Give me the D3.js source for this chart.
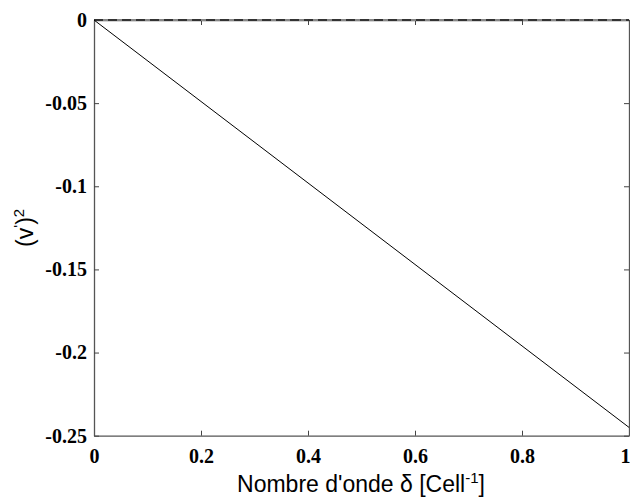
<!DOCTYPE html>
<html>
<head>
<meta charset="utf-8">
<script src="https://cdn.jsdelivr.net/npm/d3@7"></script>
<style>
  html, body { margin: 0; padding: 0; background: #fff; }
  svg { display: block; }
</style>
</head>
<body>
<svg id="chart" width="630" height="501"></svg>
<script>
// Wavenumber delta and squared velocity (v')^2 — a straight line from 0 to -0.245
const delta = [0, 1];
const vSquared = [0, -0.245];
const zeroRef = [0, 0];
const xTicks = [0, 0.2, 0.4, 0.6, 0.8, 1];
const yTicks = [0, -0.05, -0.1, -0.15, -0.2, -0.25];
const yTickLabels = ["0", "-0.05", "-0.1", "-0.15", "-0.2", "-0.25"];

const svg = d3.select("#chart");
const margin = { left: 94, right: 1, top: 20, bottom: 65 };
const W = 630, H = 501;

const x = d3.scaleLinear().domain([0, 1]).range([margin.left, W - margin.right]);
const y = d3.scaleLinear().domain([-0.25, 0]).range([H - margin.bottom - 0.3, margin.top]);

const tickFont = "'Liberation Serif', 'Times New Roman', serif";
const labelFont = "'Liberation Sans', Arial, sans-serif";

// bottom axis
const gx = svg.append("g").attr("transform", `translate(0,${y(-0.25)})`)
  .call(d3.axisBottom(x).tickValues(xTicks).tickSizeInner(-5).tickSizeOuter(0)
    .tickFormat(d => d3.format("")(d)));
// top axis (ticks only)
const gxt = svg.append("g").attr("transform", `translate(0,${y(0)})`)
  .call(d3.axisTop(x).tickValues(xTicks).tickSizeInner(-5).tickSizeOuter(0).tickFormat(""));
// left axis
const gy = svg.append("g").attr("transform", `translate(${x(0)},0)`)
  .call(d3.axisLeft(y).tickValues(yTicks).tickSizeInner(-5).tickSizeOuter(0)
    .tickFormat((d, i) => yTickLabels[i]));
// right axis (ticks only)
const gyr = svg.append("g").attr("transform", `translate(${x(1)},0)`)
  .call(d3.axisRight(y).tickValues(yTicks).tickSizeInner(-5).tickSizeOuter(0).tickFormat(""));

[gx, gxt, gy, gyr].forEach(g => {
  g.select(".domain").attr("stroke", "#555").attr("stroke-width", 1.3);
  g.selectAll(".tick line").attr("stroke", "#444").attr("stroke-width", 1);
  g.selectAll(".tick text")
    .attr("fill", "#000")
    .style("font-family", tickFont)
    .style("font-weight", "bold")
    .style("font-size", "20px");
});
gx.selectAll(".tick text").attr("dy", "0.9em").attr("y", 9);
// keep the last label inside the canvas
gx.selectAll(".tick text").filter(d => d === 1).attr("text-anchor", "end").attr("x", 1);
gy.selectAll(".tick text").attr("x", -7).attr("dy", "0.32em");

// zero reference line (dashed)
const line = d3.line().x((d, i) => x(delta[i])).y(d => y(d));
svg.append("path")
  .datum(zeroRef)
  .attr("d", line)
  .attr("fill", "none")
  .attr("stroke", "#888")
  .attr("stroke-width", 2);
svg.append("path")
  .datum(zeroRef)
  .attr("d", line)
  .attr("fill", "none")
  .attr("stroke", "#333")
  .attr("stroke-width", 2)
  .attr("stroke-dasharray", "9,5");

// data line
svg.append("path")
  .datum(vSquared)
  .attr("d", line)
  .attr("fill", "none")
  .attr("stroke", "#000")
  .attr("stroke-width", 1);

// x-axis label
const xl = svg.append("text")
  .attr("x", 361).attr("y", 492)
  .attr("text-anchor", "middle")
  .style("font-family", labelFont)
  .style("font-size", "23px")
  .attr("fill", "#000");
xl.append("tspan").text("Nombre d'onde δ [Cell");
xl.append("tspan").attr("dy", -9).style("font-size", "15px").text("-1");
xl.append("tspan").attr("dy", 9).text("]");

// y-axis label
const yl = svg.append("text")
  .attr("transform", `translate(33,${(y(0) + y(-0.25)) / 2}) rotate(-90)`)
  .attr("text-anchor", "middle")
  .style("font-family", labelFont)
  .style("font-size", "23px")
  .attr("fill", "#000");
yl.append("tspan").text("(v");
yl.append("tspan").attr("dy", -9).style("font-size", "15px").text("'");
yl.append("tspan").attr("dy", 9).text(")");
yl.append("tspan").attr("dy", -9).style("font-size", "15px").text("2");
</script>
</body>
</html>
